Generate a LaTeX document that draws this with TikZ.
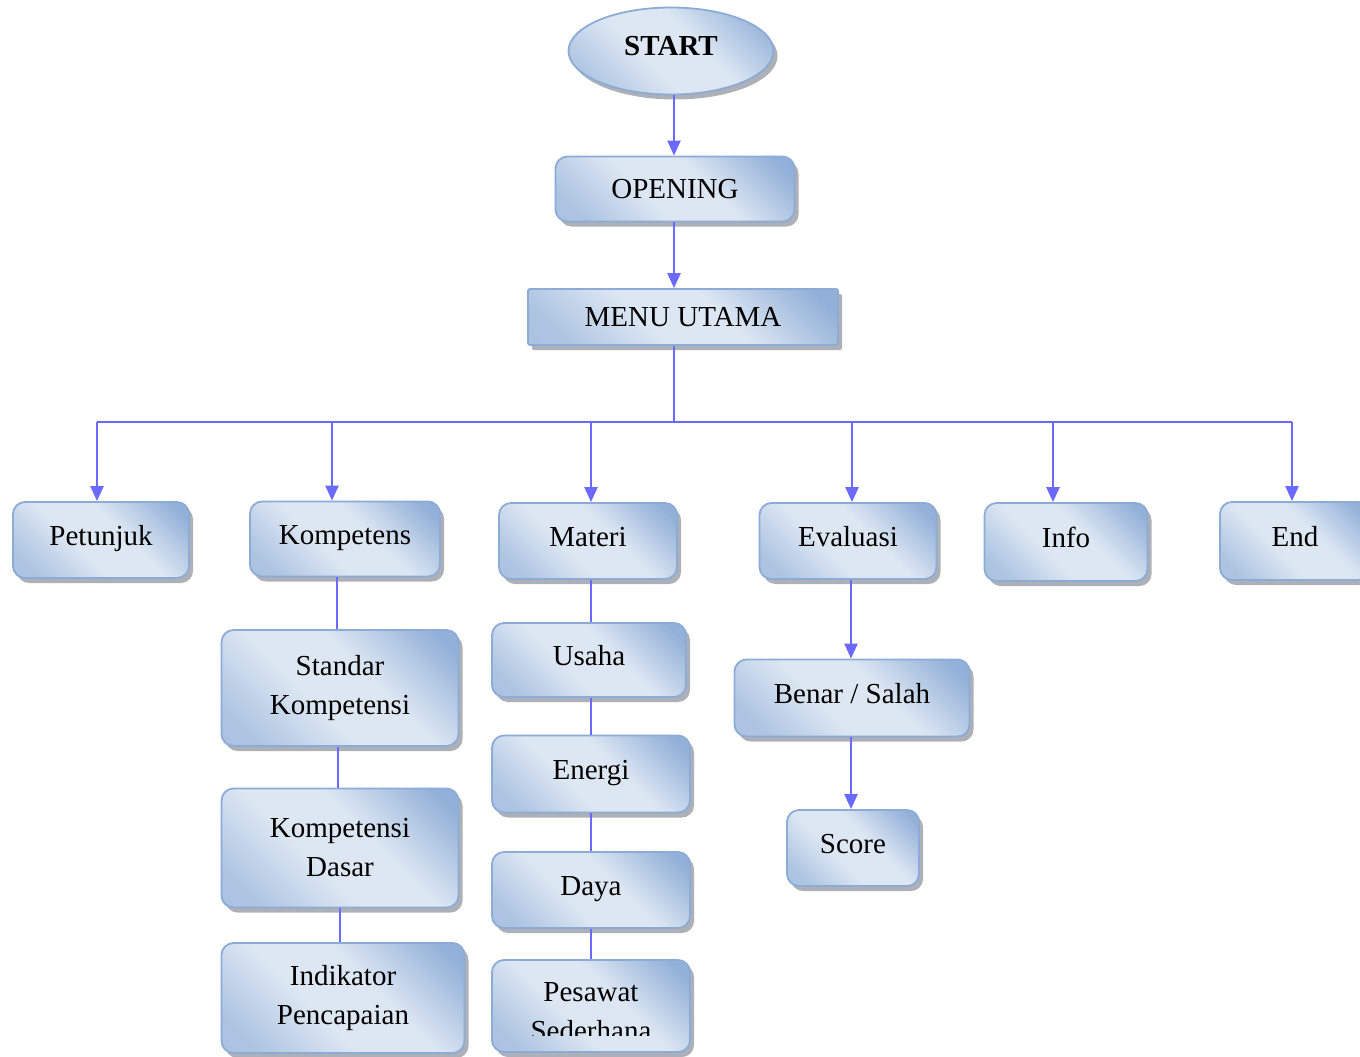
\documentclass[tikz,border=0pt]{standalone}
\usepackage{fontspec}
\setmainfont{Liberation Serif}
\usetikzlibrary{arrows.meta,shapes.geometric,shadows}

\definecolor{boxdark}{HTML}{93B1D8}
\definecolor{boxlight}{HTML}{DDE7F3}
\definecolor{boxedge}{HTML}{8CABD6}
\definecolor{shadowgray}{HTML}{8A8F99}
\definecolor{linkblue}{HTML}{6A6AFF}

% diagonal fill: darker at one corner, pale through the middle
\pgfdeclareverticalshading{boxshade}{100bp}{
  color(0bp)=(boxdark!75!boxlight);
  color(22bp)=(boxdark!65!boxlight);
  color(42bp)=(boxlight);
  color(58bp)=(boxlight);
  color(80bp)=(boxdark);
  color(100bp)=(boxdark)}

\tikzset{
  boxbase/.style={draw=boxedge, line width=1.8pt,
    shading=boxshade, shading angle=-45,
    drop shadow={shadow xshift=4pt, shadow yshift=-5pt, fill=shadowgray, opacity=0.7},
    align=center, inner sep=0pt,
    font=\fontsize{29}{39}\selectfont},
  box/.style={boxbase, rounded corners=12pt},
  oneline/.style={text height=21pt, text depth=11pt},
  flatbox/.style={boxbase, rounded corners=2pt},
  oval/.style={boxbase, ellipse},
  link/.style={draw=linkblue, line width=2.4pt},
  arrow/.style={link, -{Triangle[width=13pt,length=15pt]}},
}

\begin{document}
\begin{tikzpicture}[x=1pt,y=-1pt]
\useasboundingbox (0,0) rectangle (1360,1057);

% top chain
\node[oval, text height=21pt, text depth=12pt, minimum width=205pt, minimum height=87pt, font=\fontsize{29}{34}\bfseries\selectfont] (start) at (671,51) {START};
\node[box, minimum width=239pt, minimum height=65pt] (open) at (675,189) {OPENING};
\node[flatbox, minimum width=310pt, minimum height=56pt] (menu) at (683,317) {MENU UTAMA};

% main menu items
\node[box, oneline, minimum width=176pt, minimum height=76pt] (pet)  at (101,540)  {Petunjuk};
\node[box, oneline, minimum width=190pt, minimum height=75pt] (komp) at (345,539)  {Kompetens};
\node[box, oneline, minimum width=178pt, minimum height=76pt] (mat)  at (588,541)  {Materi};
\node[box, oneline, minimum width=177pt, minimum height=76pt] (eval) at (848,541)  {Evaluasi};
\node[box, oneline, minimum width=163pt, minimum height=78pt] (info) at (1066,542) {Info};
\node[box, oneline, minimum width=150pt, minimum height=78pt] (fin)  at (1295,541) {End};

% Kompetens branch
\node[box, minimum width=237pt, minimum height=116pt] (std) at (340,688) {Standar\\Kompetensi};
\node[box, minimum width=237pt, minimum height=119pt] (kd)  at (340,848) {Kompetensi\\Dasar};
\node[box, minimum width=243pt, minimum height=110pt] (ind) at (343,998) {Indikator\\Pencapaian};

% Materi branch
\node[box, oneline, minimum width=194pt, minimum height=74pt] (usaha)  at (589,660) {Usaha};
\node[box, oneline, minimum width=198pt, minimum height=77pt] (energi) at (591,774) {Energi};
\node[box, oneline, minimum width=198pt, minimum height=76pt] (daya)   at (591,890) {Daya};
\node[box, minimum width=198pt, minimum height=92pt] (psw)    at (591,1006) {};
\begin{scope}
  \clip (480,940) rectangle (700,1035);
  \node[align=center, font=\fontsize{29}{39}\selectfont] (pswtext) at (591,1012) {Pesawat\\Sederhana};
\end{scope}

% Evaluasi branch
\node[box, oneline, minimum width=235pt, minimum height=77pt] (bs)    at (852,698) {Benar / Salah};
\node[box, oneline, minimum width=132pt, minimum height=76pt] (score) at (853,848) {Score};

% connectors of the top chain
\draw[arrow] (open.north |- start.south) ++(-1,0) -- ([xshift=-1pt]open.north);
\draw[arrow] ([xshift=-1pt]open.south) -- ([xshift=-1pt]open.south |- menu.north);

% bus from the main menu
\coordinate (bus) at (674,422);
\draw[link] (menu.south -| bus) -- (bus);
\draw[link] ([xshift=-4pt]pet.north |- bus) -- ([xshift=-3pt]fin.north |- bus);
\draw[arrow] ([xshift=-4pt]pet.north |- bus) -- ([xshift=-4pt]pet.north);
\draw[arrow] ([xshift=-13pt]komp.north |- bus) -- ([xshift=-13pt]komp.north);
\draw[arrow] ([xshift=3pt]mat.north |- bus) -- ([xshift=3pt]mat.north);
\draw[arrow] ([xshift=4pt]eval.north |- bus) -- ([xshift=4pt]eval.north);
\draw[arrow] ([xshift=-13pt]info.north |- bus) -- ([xshift=-13pt]info.north);
\draw[arrow] ([xshift=-3pt]fin.north |- bus) -- ([xshift=-3pt]fin.north);

% Kompetens chain
\draw[link] ([xshift=-3pt]std.north) -- ([xshift=-3pt]std.north |- komp.south);
\draw[link] ([xshift=-2pt]std.south) -- ([xshift=-2pt]kd.north);
\draw[link] (kd.south) -- (kd.south |- ind.north);

% Materi chain
\draw[link] ([xshift=3pt]mat.south) -- ([xshift=3pt]mat.south |- usaha.north);
\draw[link] (usaha.south -| energi.north) -- (energi.north);
\draw[link] (energi.south) -- (daya.north);
\draw[link] (daya.south) -- (psw.north);

% Evaluasi chain
\draw[arrow] ([xshift=3pt]eval.south) -- ([xshift=3pt]eval.south |- bs.north);
\draw[arrow] ([xshift=-1pt]bs.south) -- ([xshift=-1pt]bs.south |- score.north);
\end{tikzpicture}
\end{document}
